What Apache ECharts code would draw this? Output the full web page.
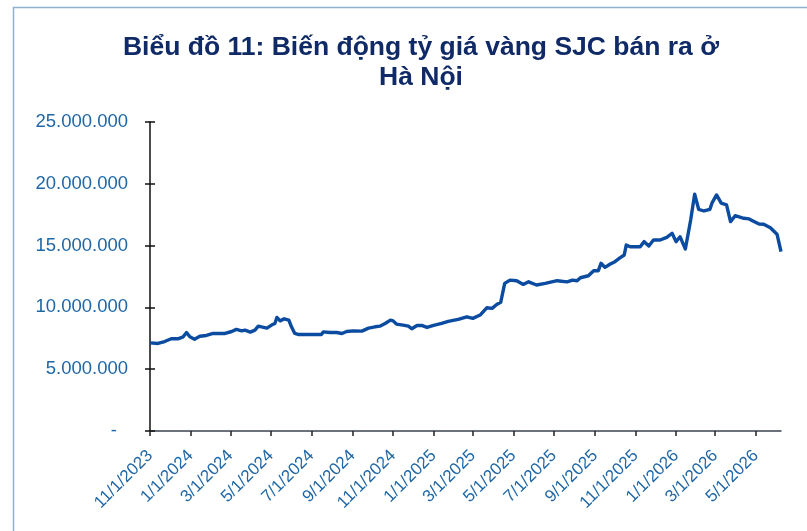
<!DOCTYPE html>
<html>
<head>
<meta charset="utf-8">
<script src="https://cdn.jsdelivr.net/npm/echarts@6/dist/echarts.min.js"></script>
<style>
  html, body { margin: 0; padding: 0; background: #fff; }
  #chart { width: 807px; height: 531px; }
</style>
</head>
<body>
<div id="chart"></div>
<script>
// giá vàng SJC bán ra ở Hà Nội
var dates = [
  '2023-11-01', '2023-11-13', '2023-11-23', '2023-12-03', '2023-12-13', '2023-12-21', '2023-12-26', '2023-12-31',
  '2024-01-07', '2024-01-15', '2024-01-25', '2024-02-04', '2024-02-14', '2024-02-22', '2024-03-03', '2024-03-10',
  '2024-03-18', '2024-03-23', '2024-03-31', '2024-04-07', '2024-04-12', '2024-04-20', '2024-04-25', '2024-05-02',
  '2024-05-07', '2024-05-10', '2024-05-15', '2024-05-21', '2024-05-28', '2024-06-01', '2024-06-06', '2024-06-11',
  '2024-07-16', '2024-07-19', '2024-07-29', '2024-08-08', '2024-08-16', '2024-08-23', '2024-09-02', '2024-09-15',
  '2024-09-25', '2024-10-05', '2024-10-12', '2024-10-20', '2024-10-28', '2024-11-01', '2024-11-06', '2024-11-16',
  '2024-11-24', '2024-11-29', '2024-12-07', '2024-12-14', '2024-12-22', '2025-01-01', '2025-01-13', '2025-01-23',
  '2025-02-07', '2025-02-20', '2025-03-01', '2025-03-12', '2025-03-22', '2025-03-30', '2025-04-06', '2025-04-12',
  '2025-04-18', '2025-04-26', '2025-05-06', '2025-05-16', '2025-05-24', '2025-06-05', '2025-06-18', '2025-07-06',
  '2025-07-21', '2025-07-29', '2025-08-05', '2025-08-10', '2025-08-22', '2025-08-30', '2025-09-06', '2025-09-10',
  '2025-09-16', '2025-09-24', '2025-10-01', '2025-10-09', '2025-10-15', '2025-10-18', '2025-10-24', '2025-11-08',
  '2025-11-14', '2025-11-21', '2025-11-28', '2025-12-08', '2025-12-18', '2025-12-26', '2026-01-01', '2026-01-07',
  '2026-01-15', '2026-01-23', '2026-01-29', '2026-02-04', '2026-02-12', '2026-02-21', '2026-02-24', '2026-03-03',
  '2026-03-10', '2026-03-18', '2026-03-24', '2026-03-31', '2026-04-13', '2026-04-21', '2026-04-26', '2026-05-06',
  '2026-05-13', '2026-05-23', '2026-06-02', '2026-06-08'
];
var prices = [
  7130000, 7080000, 7240000, 7460000, 7460000, 7620000, 7970000, 7620000,
  7430000, 7670000, 7730000, 7890000, 7890000, 7890000, 8050000, 8220000,
  8100000, 8160000, 8000000, 8160000, 8480000, 8380000, 8320000, 8570000,
  8700000, 9190000, 8910000, 9080000, 8970000, 8430000, 7890000, 7810000,
  7810000, 8020000, 7970000, 7970000, 7890000, 8050000, 8100000, 8080000,
  8320000, 8430000, 8480000, 8700000, 8970000, 8910000, 8650000, 8570000,
  8480000, 8270000, 8540000, 8540000, 8380000, 8540000, 8700000, 8870000,
  9030000, 9240000, 9110000, 9380000, 9970000, 9920000, 10240000, 10410000,
  11940000, 12210000, 12160000, 11860000, 12070000, 11810000, 11940000, 12160000,
  12070000, 12210000, 12160000, 12400000, 12560000, 12970000, 12970000, 13570000,
  13240000, 13510000, 13700000, 14020000, 14240000, 15050000, 14910000, 14910000,
  15320000, 14970000, 15450000, 15450000, 15670000, 16000000, 15320000, 15720000,
  14720000, 17070000, 19160000, 17940000, 17800000, 17940000, 18430000, 19100000,
  18430000, 18290000, 16940000, 17420000, 17210000, 17160000, 17020000, 16750000,
  16730000, 16450000, 15920000, 14510000
];
var tickDates = [
  '2023-11-01', '2024-01-01', '2024-03-01', '2024-05-01', '2024-07-01', '2024-09-01', '2024-11-01',
  '2025-01-01', '2025-03-01', '2025-05-01', '2025-07-01', '2025-09-01', '2025-11-01',
  '2026-01-01', '2026-03-01', '2026-05-01'
];
var axisStart = '2023-11-01';
var axisEnd = '2026-06-08';

function toTime(s) {
  var p = s.split('-');
  return new Date(+p[0], +p[1] - 1, +p[2]).getTime();
}
function fmtDate(v) {
  var d = new Date(v);
  return (d.getMonth() + 1) + '/' + d.getDate() + '/' + d.getFullYear();
}
function fmtNum(v) {
  if (v === 0) return '{z|-}';
  return String(v).replace(/\B(?=(\d{3})+(?!\d))/g, '.');
}

var seriesData = dates.map(function (d, i) { return [toTime(d), prices[i]]; });
var ticks = tickDates.map(toTime);

var labelColor = '#1f67a6';
var chart = echarts.init(document.getElementById('chart'));
chart.setOption({
  animation: false,
  backgroundColor: '#fff',
  textStyle: { fontFamily: 'Liberation Sans, Arial, sans-serif' },
  graphic: [{
    type: 'rect',
    shape: { x: 13.5, y: 7.5, width: 820, height: 540 },
    style: { fill: 'none', stroke: '#8eb1d2', lineWidth: 1.5 },
    silent: true
  }],
  title: {
    text: 'Biểu đồ 11: Biến động tỷ giá vàng SJC bán ra ở\nHà Nội',
    left: 416,
    top: 28,
    textAlign: 'center',
    textStyle: {
      fontFamily: 'Liberation Sans, Arial, sans-serif',
      fontSize: 26.5,
      fontWeight: 'bold',
      color: '#0f2a66',
      lineHeight: 30
    }
  },
  grid: { left: 150, right: 26, top: 122, bottom: 100, containLabel: false, outerBoundsMode: 'none' },
  xAxis: {
    type: 'value',
    min: toTime(axisStart),
    max: toTime(axisEnd),
    scale: true,
    splitLine: { show: false },
    axisLine: { onZero: false, lineStyle: { color: '#3b4250', width: 1.5 } },
    axisTick: { customValues: ticks, length: 5, lineStyle: { color: '#222', width: 1.5 } },
    axisLabel: {
      customValues: ticks,
      formatter: fmtDate,
      rotate: 45,
      margin: 22,
      color: labelColor,
      fontSize: 17,
      hideOverlap: false
    }
  },
  yAxis: [{
    type: 'value',
    min: 0,
    max: 25000000,
    interval: 5000000,
    splitLine: { show: false },
    axisLine: { show: true, lineStyle: { color: '#111', width: 1.5 } },
    axisTick: { show: true, length: 5, lineStyle: { color: '#111', width: 1.5 } },
    axisLabel: {
      formatter: fmtNum,
      margin: 22,
      color: labelColor,
      fontSize: 18.5,
      rich: { z: { color: labelColor, fontSize: 18.5, padding: [0, 11, 0, 0] } }
    }
  }, {
    type: 'value',
    position: 'left',
    min: 0,
    max: 25000000,
    interval: 5000000,
    splitLine: { show: false },
    axisLine: { show: false },
    axisTick: { show: true, inside: true, length: 5, lineStyle: { color: '#111', width: 1.5 } },
    axisLabel: { show: false }
  }],
  series: [{
    type: 'line',
    yAxisIndex: 0,
    data: seriesData,
    showSymbol: false,
    symbol: 'none',
    lineStyle: { color: '#0b4ba0', width: 3.4, join: 'round' },
    z: 3
  }]
});
</script>
</body>
</html>
